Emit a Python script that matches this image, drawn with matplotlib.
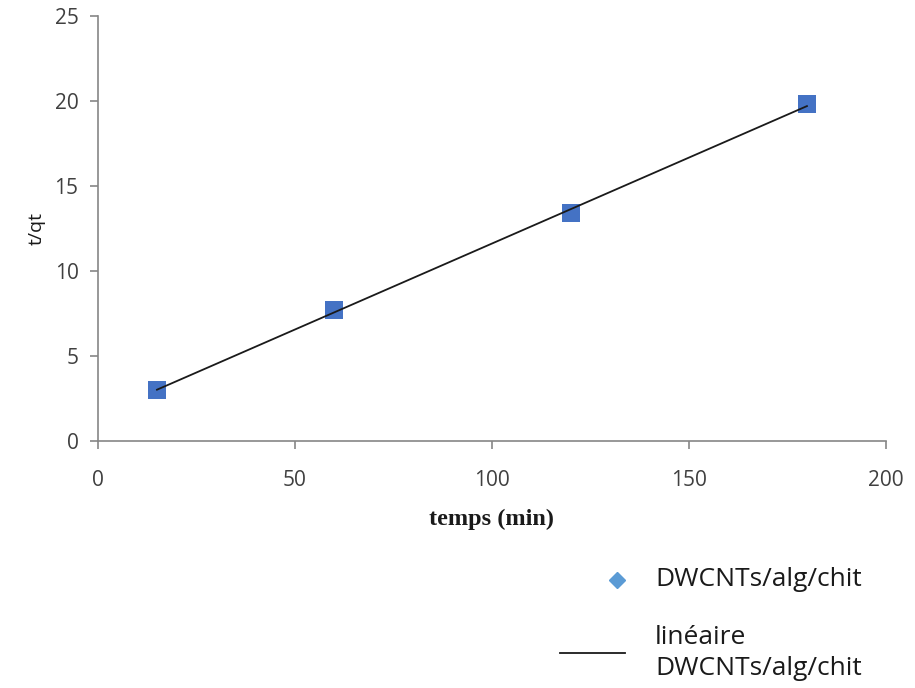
import numpy as np
import matplotlib
matplotlib.use("Agg")
from matplotlib import pyplot as plt
from matplotlib.lines import Line2D

# données
temps = [15, 60, 120, 180]
t_qt = [3.0, 7.7, 13.4, 19.8]
x_ticks = [0, 50, 100, 150, 200]
y_ticks = [0, 5, 10, 15, 20, 25]

plt.rcParams['font.family'] = ['Open Sans', 'DejaVu Sans']

fig = plt.figure(figsize=(9.15, 6.88), dpi=100)
ax = fig.add_axes([0.107, 0.359, 0.861, 0.618])

# points expérimentaux
ax.plot(temps, t_qt, linestyle='none', marker='s', markersize=12.5,
        color='#4472C4', markeredgewidth=0, zorder=2)

# droite de régression linéaire
a, b = np.polyfit(temps, t_qt, 1)
xs = np.array([temps[0], temps[-1]])
ax.plot(xs, a * xs + b, color='#1a1a1a', linewidth=1.3, zorder=3)

ax.set_xlim(0, 200)
ax.set_ylim(0, 25)
ax.set_xticks(x_ticks)
ax.set_yticks(y_ticks)

grey = '#868686'
for s in ['top', 'right']:
    ax.spines[s].set_visible(False)
for s in ['left', 'bottom']:
    ax.spines[s].set_color(grey)
    ax.spines[s].set_linewidth(1.2)
ax.tick_params(colors=grey, labelcolor='#404040', labelsize=15, length=6, width=1.2)
ax.tick_params(axis='x', pad=15)
ax.tick_params(axis='y', pad=8)

ax.set_xlabel('temps (min)', fontfamily='Liberation Serif', fontweight='bold',
              fontsize=17.5, color='#1a1a1a', labelpad=13)
ax.set_ylabel('t/qt', fontsize=14, color='#1a1a1a', labelpad=6)

# légende (placée à la main sous le graphique)
fig.add_artist(Line2D([0.674], [0.157], transform=fig.transFigure,
                      linestyle='none', marker='D', markersize=8,
                      color='#5B9BD5'))
fig.text(0.716, 0.157, 'DWCNTs/alg/chit', fontsize=19, color='#1a1a1a',
         va='center', ha='left')
fig.add_artist(Line2D([0.612, 0.683], [0.051, 0.051], transform=fig.transFigure,
                      color='#1a1a1a', linewidth=1.3))
fig.text(0.716, 0.051, 'linéaire\nDWCNTs/alg/chit', fontsize=19,
         color='#1a1a1a', va='center', ha='left', linespacing=1.3)

fig.savefig('out.png', dpi=100)
